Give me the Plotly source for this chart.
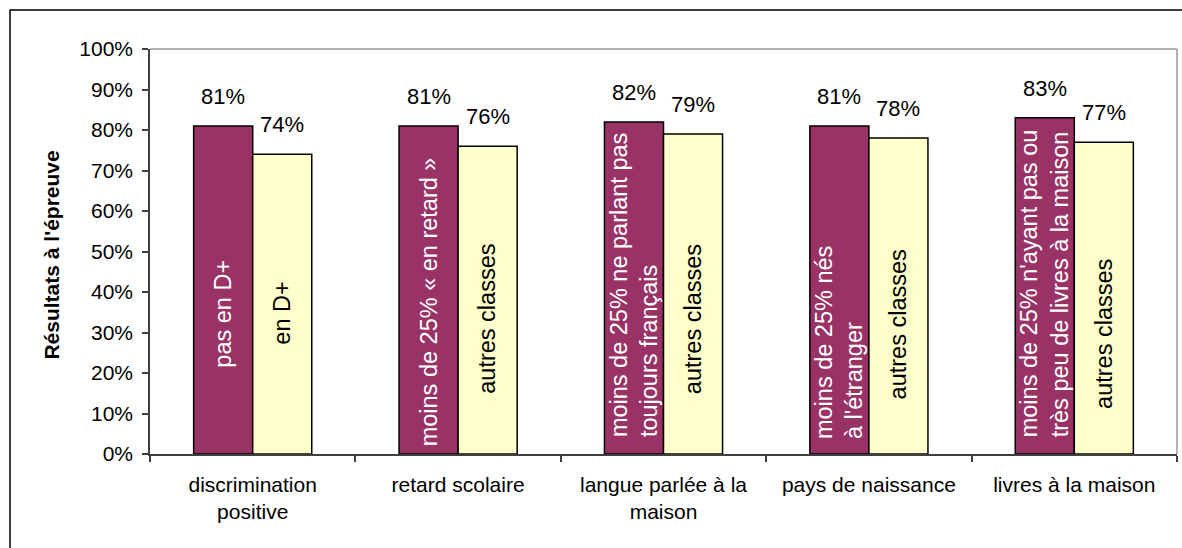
import plotly.graph_objects as go

categories = ["discrimination<br>positive", "retard scolaire", "langue parlée à la<br>maison",
              "pays de naissance", "livres à la maison"]
series_a = [81, 81, 82, 81, 83]
series_b = [74, 76, 79, 78, 77]
labels_a = ["pas en D+", "moins de 25% « en retard »",
            "moins de 25% ne parlant pas<br>toujours français",
            "moins de 25% nés<br>à l'étranger",
            "moins de 25% n'ayant pas ou<br>très peu de livres à la maison"]
labels_b = ["en D+", "autres classes", "autres classes", "autres classes", "autres classes"]
tick_vals = [0, 10, 20, 30, 40, 50, 60, 70, 80, 90, 100]
tick_text = [f"{v}%" for v in tick_vals]
y_title = "Résultats à l'épreuve"

# vertical centre of rotated inside labels (in axis units)
pos_a = [34.7, 37.6, 41.7, 27.5, 42.1]
pos_b = [34.7, 33.3, 33.3, 32.1, 29.6]

FONT = "Arial, Liberation Sans, sans-serif"
FS = 21
FS_IN = 23.5
FS_VAL = 22

fig = go.Figure()
fig.add_trace(go.Bar(x=categories, y=series_a, marker=dict(color="#993366", line=dict(color="black", width=1.5)),
                     hoverinfo="skip"))
fig.add_trace(go.Bar(x=categories, y=series_b, marker=dict(color="#FFFFCC", line=dict(color="black", width=1.5)),
                     hoverinfo="skip"))

ann = []
shift = 29.5
for i, c in enumerate(categories):
    ann.append(dict(x=c, y=series_a[i], xshift=-shift, yshift=15, yanchor="bottom", showarrow=False,
                    text=f"{series_a[i]}%", font=dict(family=FONT, size=FS_VAL, color="black")))
    ann.append(dict(x=c, y=series_b[i], xshift=shift, yshift=15, yanchor="bottom", showarrow=False,
                    text=f"{series_b[i]}%", font=dict(family=FONT, size=FS_VAL, color="black")))
    ann.append(dict(x=c, y=pos_a[i], xshift=-shift, showarrow=False, textangle=-90, align="left",
                    xanchor="center", yanchor="middle",
                    text=labels_a[i], font=dict(family=FONT, size=FS_IN, color="white")))
    ann.append(dict(x=c, y=pos_b[i], xshift=shift, showarrow=False, textangle=-90, align="left",
                    xanchor="center", yanchor="middle",
                    text=labels_b[i], font=dict(family=FONT, size=FS_IN, color="black")))
ann.append(dict(xref="paper", yref="paper", x=-0.0954, y=0.49, xanchor="center", yanchor="middle",
                showarrow=False, textangle=-90,
                text=f"<b>{y_title}</b>", font=dict(family=FONT, size=21, color="black")))

shapes = [
    dict(type="line", xref="paper", yref="paper", x0=0, x1=1, y0=1, y1=1, line=dict(color="#999999", width=1.5)),
    dict(type="line", xref="paper", yref="paper", x0=1, x1=1, y0=0, y1=1, line=dict(color="#999999", width=1.5)),
    dict(type="rect", xref="paper", yref="paper", x0=-0.1363, x1=1.2, y0=-0.4, y1=1.0963,
         line=dict(color="black", width=1.5)),
]

fig.update_layout(
    width=1182, height=548,
    margin=dict(l=150, r=5, t=49, b=94),
    paper_bgcolor="white", plot_bgcolor="white",
    barmode="group", bargap=0.425, bargroupgap=0,
    showlegend=False,
    font=dict(family=FONT, size=FS, color="black"),
    annotations=ann, shapes=shapes,
    xaxis=dict(type="category", showline=True, linecolor="#404040", linewidth=1.5,
               ticks="outside", tickson="boundaries", ticklen=6, tickcolor="#404040", tickwidth=1.5,
               showgrid=False, ticklabelstandoff=11,
               tickfont=dict(family=FONT, size=FS, color="black")),
    yaxis=dict(range=[0, 100], tickvals=tick_vals, ticktext=tick_text, showline=True,
               linecolor="#404040", linewidth=1.5, ticks="outside", ticklen=6, tickcolor="#404040",
               tickwidth=1.5, showgrid=False, zeroline=False, ticklabelstandoff=5,
               tickfont=dict(family=FONT, size=FS, color="black")),
)

fig.write_html("out.html")
